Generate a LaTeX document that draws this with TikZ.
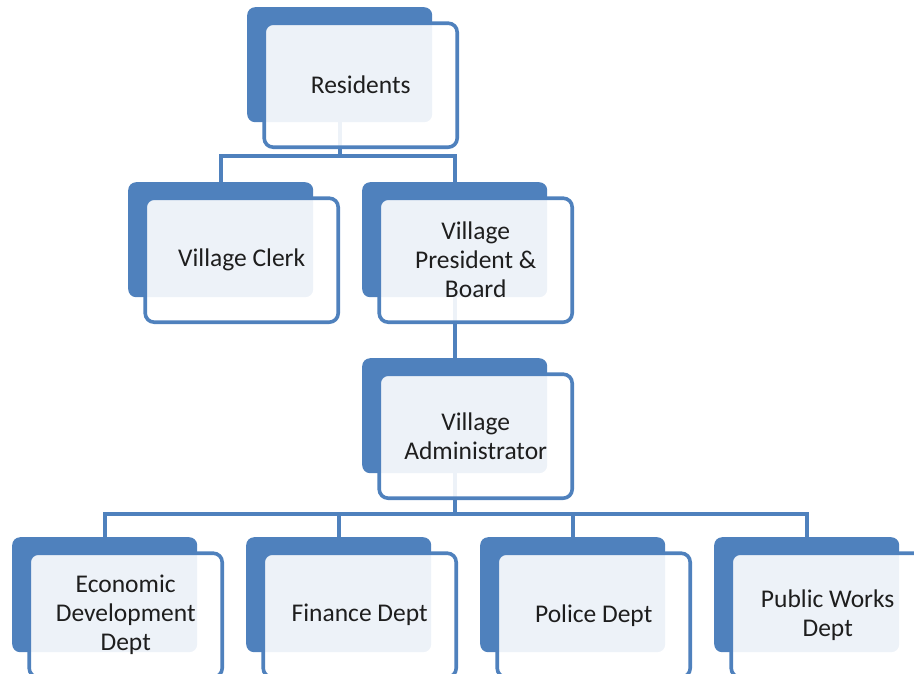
\documentclass[tikz,border=0pt]{standalone}
\usepackage{fontspec}
\setmainfont{Carlito}
\usetikzlibrary{backgrounds,calc}
\definecolor{accent}{HTML}{4F81BD}
\definecolor{ink}{HTML}{1E1E1E}
\begin{document}
\begin{tikzpicture}[x=1pt,y=-1pt,
  backbox/.style={draw=none,fill=accent,rounded corners=8pt,minimum width=185pt,minimum height=115pt,inner sep=0pt,anchor=north west},
  frontbox/.style={draw=accent,line width=3.6pt,fill=white,fill opacity=0.9,draw opacity=1,text opacity=1,rounded corners=9pt,minimum width=193pt,minimum height=124pt,inner sep=0pt,text=ink,align=center,font=\fontsize{25.5}{29}\selectfont},
  conn/.style={draw=accent,line width=4pt,line join=miter}]
\useasboundingbox (0,0) rectangle (914,673);
\clip (0,0) rectangle (914,673);
% units: back box top-left corner, front box centered at back center + (21,20.5)
\newcommand{\orgunit}[4]{%
  \node[backbox] (#1B) at (#2,#3) {};
  \node[frontbox] (#1) at ($(#1B.center)+(21,20.5)$) {#4};
}
\orgunit{res}{247}{7}{Residents}
\orgunit{clerk}{128}{182}{Village Clerk}
\orgunit{pres}{362}{182}{Village\\President \&\\Board}
\orgunit{admin}{362}{358}{Village\\Administrator}
\orgunit{econ}{12}{537}{Economic\\Development\\Dept}
\orgunit{fin}{246}{537}{Finance Dept}
\orgunit{pol}{480}{537}{Police Dept}
\orgunit{pub}{714}{537}{Public Works\\Dept}
\coordinate (bus1) at (0,156);
\coordinate (bus2) at (0,514);
\begin{scope}[on background layer]
  \draw[conn] (resB.center) -- (resB.center |- bus1);
  \draw[conn] (clerkB.center) |- (bus1 -| presB.center) -- (presB.center);
  \draw[conn] (presB.center) -- (adminB.center);
  \draw[conn] (adminB.center) -- (adminB.center |- bus2);
  \draw[conn] (econB.center) |- (bus2 -| pubB.center) -- (pubB.center);
  \draw[conn] (finB.center) -- (finB.center |- bus2);
  \draw[conn] (polB.center) -- (polB.center |- bus2);
\end{scope}
\end{tikzpicture}
\end{document}
